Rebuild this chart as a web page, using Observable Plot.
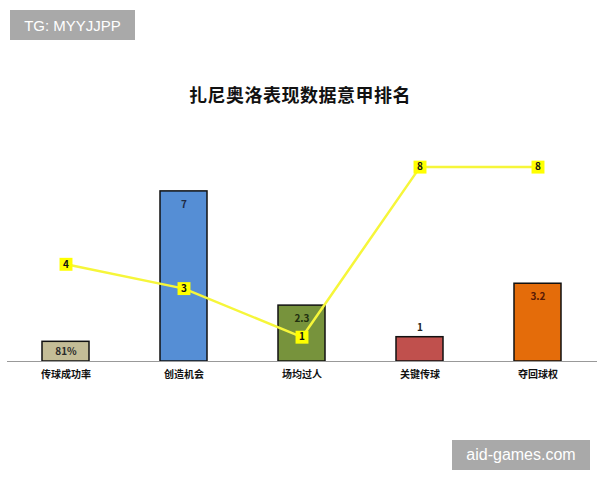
<!DOCTYPE html>
<html>
<head>
<meta charset="utf-8">
<script src="https://cdn.jsdelivr.net/npm/d3@7"></script>
<script src="https://cdn.jsdelivr.net/npm/@observablehq/plot@0.6"></script>
<style>
  html, body { margin: 0; padding: 0; background: #fff; }
  #wrap { position: relative; width: 600px; height: 480px; overflow: hidden; font-family: "Noto Sans CJK SC", "Noto Sans", sans-serif; }
  #chart { position: absolute; left: 0; top: 0; }
  #title { position: absolute; left: 0; width: 600px; top: 81px; text-align: center; font-size: 18px; font-weight: bold; color: #111; letter-spacing: 0.5px; }
  .wm { position: absolute; background: #a9a9a9; color: #fff; font-family: "Liberation Sans", "DejaVu Sans", sans-serif; display: flex; align-items: center; justify-content: center; }
  #wm1 { left: 10px; top: 10px; width: 125px; height: 30px; font-size: 15px; }
  #wm2 { left: 452px; top: 440px; width: 138px; height: 30px; font-size: 16px; }
</style>
</head>
<body>
<div id="wrap">
  <div id="chart"></div>
  <div id="title">扎尼奥洛表现数据意甲排名</div>
  <div class="wm" id="wm1">TG: MYYJJPP</div>
  <div class="wm" id="wm2">aid-games.com</div>
</div>
<script>
const categories = ["传球成功率", "创造机会", "场均过人", "关键传球", "夺回球权"];
const values = [0.81, 7, 2.3, 1, 3.2];
const valueLabels = ["81%", "7", "2.3", "1", "3.2"];
const ranks = [4, 3, 1, 8, 8];
const barColors = ["#c4bd97", "#558ed5", "#77933c", "#c0504d", "#e46c0a"];
const labelColors = ["#2a2a2a", "#1f2a44", "#223010", "#222222", "#5a1a05"];

const bars = categories.map((c, i) => ({cat: c, value: values[i], label: valueLabels[i], rank: ranks[i], lc: labelColors[i]}));
const centerLabels = bars.filter(d => d.cat === "传球成功率");
const topLabels = bars.filter(d => d.cat === "创造机会" || d.cat === "场均过人" || d.cat === "夺回球权");
const aboveLabels = bars.filter(d => d.cat === "关键传球");

const chart = Plot.plot({
  width: 600,
  height: 480,
  marginLeft: 7,
  marginRight: 3,
  marginTop: 118,
  marginBottom: 119,
  style: {fontFamily: "'Noto Sans CJK SC', sans-serif", background: "transparent"},
  x: {domain: categories, paddingInner: 0.6, paddingOuter: 0.3, label: null},
  y: {domain: [0, 10], axis: null},
  color: {domain: categories, range: barColors},
  marks: [
    Plot.barY(bars, {x: "cat", y: "value", fill: "cat", stroke: "#111", strokeWidth: 1.5}),
    Plot.ruleY([0], {stroke: "#999", strokeWidth: 1}),
    Plot.axisX({tickSize: 0, tickPadding: 9, fontSize: 10, fontWeight: "bold", fill: "#111", label: null}),
    Plot.text(centerLabels, {x: "cat", y: d => d.value / 2, text: "label", fill: "lc", fontSize: 10, fontWeight: "bold"}),
    Plot.text(topLabels, {x: "cat", y: "value", text: "label", fill: "lc", fontSize: 10, fontWeight: "bold", dy: 13}),
    Plot.text(aboveLabels, {x: "cat", y: "value", text: "label", fill: "lc", fontSize: 10, fontWeight: "bold", dy: -9}),
    Plot.line(bars, {x: "cat", y: "rank", stroke: "#f6f63a", strokeWidth: 2.5}),
    Plot.dot(bars, {x: "cat", y: "rank", symbol: "square", r: 7.3, fill: "#ffff00", stroke: "none"}),
    Plot.text(bars, {x: "cat", y: "rank", text: d => String(d.rank), fill: "#111", fontSize: 10, fontWeight: "bold"})
  ]
});
document.getElementById("chart").appendChild(chart);
</script>
</body>
</html>
